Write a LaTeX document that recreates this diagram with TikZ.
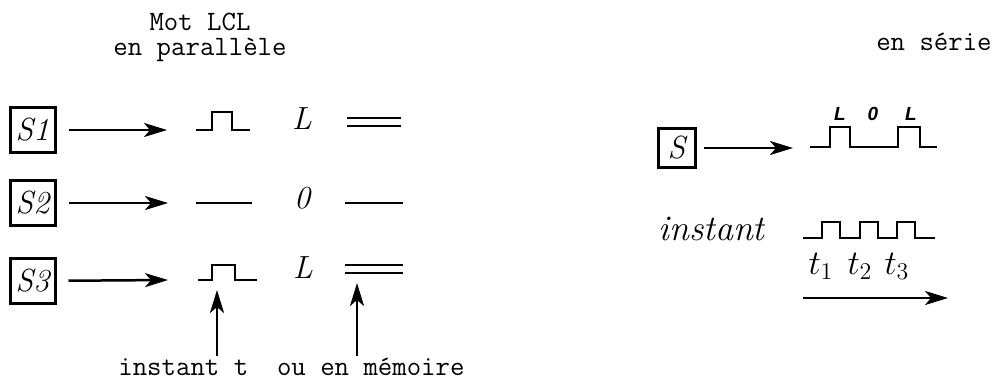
\documentclass[tikz,border=0pt]{standalone}
\usepackage{fontspec}
\newfontfamily\lsans{Liberation Sans}
\usetikzlibrary{arrows.meta}
\begin{document}
\begin{tikzpicture}[x=0.5pt,y=-0.5pt,
  sbox/.style={draw,line width=1.5pt,minimum width=22.5pt,minimum height=22.5pt,inner sep=0pt,font=\fontsize{16}{16}\selectfont\itshape},
  conn/.style={line width=1.25pt,-{Stealth[length=11.5pt,width=7pt,inset=3pt]}},
  sig/.style={line width=1.45pt},
  tw/.style={font=\fontsize{14}{16}\selectfont\ttfamily,inner sep=0pt},
  big/.style={font=\fontsize{16}{16}\selectfont\itshape,inner sep=0pt},
  lab/.style={font=\fontsize{9.5}{9.5}\selectfont\lsans\bfseries\itshape,inner sep=0pt},
  tlab/.style={font=\fontsize{17}{17}\selectfont,inner sep=0pt}]
\useasboundingbox (0,0) rectangle (995,381);
% titles
\node[tw,anchor=base] (t1) at (200,30) {Mot LCL};
\node[tw,anchor=base] (t2) at (200,55) {en parallèle};
\node[tw,anchor=base east] (t3) at (992,50) {en série};
% left boxes
\node[sbox] (s1) at (32.5,130) {S1};
\node[sbox] (s2) at (32.5,203) {S2};
\node[sbox] (s3) at (32.5,281) {S3};
\coordinate (e1) at (167,130);
\coordinate (e2) at (168,203);
\coordinate (e3) at (168,280);
\draw[conn,shorten <=6pt] (s1) -- (e1);
\draw[conn,shorten <=6pt] (s2) -- (e2);
\draw[conn,shorten <=6pt] (s3) -- (e3);
% signals
\draw[sig] (196,130) -| (212,112) -| (232,130) -- (250,130);
\draw[sig] (196,203) -- (252,203);
\draw[sig] (198,280) -| (212,265) -| (235,280) -- (257,280);
% values
\node[big] (v1) at (302,119) {L};
\node[big] (v2) at (302,198) {0};
\node[big] (v3) at (303,268) {L};
% memory lines
\draw[sig] (347,118) -- (401,118) (347,126) -- (401,126);
\draw[sig] (345,203) -- (403,203);
\draw[sig] (345,265) -- (403,265) (345,273) -- (403,273);
% up arrows
\coordinate (u1a) at (217,356);
\coordinate (u1b) at (217,290);
\coordinate (u2a) at (357,356);
\coordinate (u2b) at (357,283);
\draw[conn] (u1a) -- (u1b);
\draw[conn] (u2a) -- (u2b);
\node[tw,anchor=base west] (bt) at (118,375) {instant t~~ou en mémoire};
% right side
\node[sbox,minimum width=18.5pt,minimum height=19.5pt] (S) at (676.5,148) {S};
\coordinate (se) at (793,148);
\draw[conn,shorten <=3.5pt] (S) -- (se);
\draw[sig] (810,147) -| (830,127) -| (850,147) -| (898,127) -| (920,147) -- (937,147);
\node[lab] (r1) at (840,114) {L};
\node[lab] (r2) at (873,114) {0};
\node[lab] (r3) at (911,114) {L};
\node[font=\fontsize{18}{18}\selectfont\itshape,inner sep=0pt,anchor=base west] (inst) at (658,240) {instant};
\draw[sig] (803,238) -| (822,222) -| (840,238) -| (860,222) -| (878,238) -| (897,222) -| (915,238) -- (935,238);
\node[tlab] (k1) at (821,266) {$t_1$};
\node[tlab] (k2) at (860,266) {$t_2$};
\node[tlab] (k3) at (897,266) {$t_3$};
\coordinate (ta) at (803,298);
\coordinate (tb) at (948,298);
\draw[conn] (ta) -- (tb);
\end{tikzpicture}
\end{document}
